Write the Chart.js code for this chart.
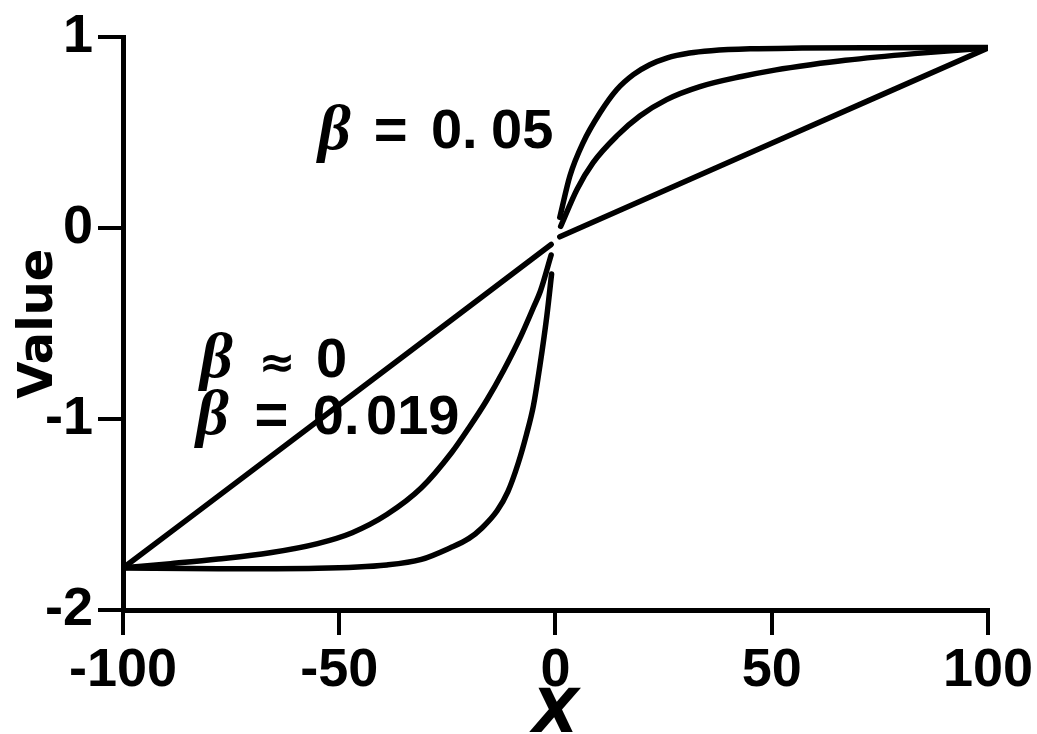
<!DOCTYPE html>
<html>
<head>
<meta charset="utf-8">
<title>Value vs X</title>
<style>
html, body { margin: 0; padding: 0; background: #fff; }
#wrap { width: 1037px; height: 734px; }
</style>
<script src="https://cdn.jsdelivr.net/npm/chart.js@4.4.1/dist/chart.umd.min.js"></script>
</head>
<body>
<div id="wrap"><canvas id="chart" width="1037" height="734"></canvas></div>
<script>
// Values, left branch (x < 0) and right branch (x > 0)
const xLinL = [-100, -50, -1];
const yLinL = [-1.78, -0.925, -0.085];
const xLinR = [1, 50, 100];
const yLinR = [-0.045, 0.445, 0.945];

// beta = 0.019
const xMidL = [-100, -89, -78, -66, -55, -47, -39, -31, -24, -20, -16, -12, -8, -5, -3.5, -1];
const yMidL = [-1.779, -1.757, -1.733, -1.700, -1.652, -1.595, -1.50, -1.36, -1.175, -1.045, -0.905, -0.745, -0.565, -0.41, -0.33, -0.14];
const xMidR = [1.2, 5, 8.7, 14.2, 19.5, 25.7, 33.4, 43, 51, 59, 67, 83, 100];
const yMidR = [0.01, 0.205, 0.344, 0.484, 0.588, 0.674, 0.742, 0.795, 0.83, 0.857, 0.88, 0.915, 0.945];

// beta = 0.05
const xStL = [-100, -78, -55, -39, -31, -24.4, -20, -17, -13.5, -11, -8.6, -6.7, -5.1, -3.6, -2, -0.9];
const yStL = [-1.78, -1.784, -1.781, -1.764, -1.735, -1.675, -1.625, -1.57, -1.48, -1.38, -1.23, -1.08, -0.93, -0.72, -0.46, -0.24];
const xStR = [1, 3.35, 6.4, 10.3, 14.2, 18, 21.8, 25.7, 31, 36, 45, 57, 75, 100];
const yStR = [0.057, 0.275, 0.449, 0.605, 0.727, 0.805, 0.857, 0.892, 0.918, 0.93, 0.94, 0.944, 0.946, 0.947];

const xTicks = [-100, -50, 0, 50, 100];
const yTicks = [-2, -1, 0, 1];

// text labels in the plot, anchored in data space (x, baseline y)
const noteText = ['β', '=', '0.', '05', 'β', '≈', '0', 'β', '=', '0.', '019'];
const noteX = [-54.9, -42.0, -28.8, -14.9, -82.2, -68.6, -55.4, -83.1, -69.6, -56.1, -43.8];
const noteY = [0.417, 0.417, 0.4225, 0.4225, -0.777, -0.777, -0.777, -1.08, -1.08, -1.08, -1.08];

const betaFont = 'bold italic 64px "Liberation Serif"';
const eqFont = 'bold 58px "Liberation Sans"';
const approxFont = 'bold 44px "DejaVu Sans"';
const numFont = 'bold 56px "Liberation Sans"';

function pts(xs, ys){ return xs.map((x,i)=>({x:x, y:ys[i]})); }

function line(xs, ys){
  return {
    data: pts(xs, ys),
    borderColor: '#000',
    borderWidth: 5.5,
    borderCapStyle: 'round',
    borderJoinStyle: 'round',
    pointRadius: 0,
    showLine: true,
    cubicInterpolationMode: 'monotone',
    fill: false
  };
}

const notes = {
  id: 'notes',
  afterDatasetsDraw(chart){
    const ctx = chart.ctx;
    const xs = chart.scales.x, ys = chart.scales.y;
    ctx.save();
    ctx.fillStyle = '#000';
    ctx.textAlign = 'left';
    ctx.textBaseline = 'alphabetic';
    noteText.forEach((t,i)=>{
      if(t === 'β') ctx.font = betaFont;
      else if(t === '=') ctx.font = eqFont;
      else if(t === '≈') ctx.font = approxFont;
      else ctx.font = numFont;
      ctx.fillText(t, xs.getPixelForValue(noteX[i]), ys.getPixelForValue(noteY[i]));
    });
    ctx.restore();
  }
};

const tickFont = {family: '"Liberation Sans"', size: 54, weight: 'bold'};

new Chart(document.getElementById('chart'), {
  type: 'scatter',
  data: {
    datasets: [
      line(xLinL, yLinL), line(xLinR, yLinR),
      line(xMidL, yMidL), line(xMidR, yMidR),
      line(xStL, yStL), line(xStR, yStR)
    ]
  },
  options: {
    responsive: false,
    devicePixelRatio: 1,
    animation: false,
    layout: { padding: { top: 34, right: 49, left: 0, bottom: 0 } },
    plugins: { legend: { display: false }, tooltip: { enabled: false } },
    scales: {
      x: {
        type: 'linear',
        min: -100, max: 100,
        afterFit(s){ s.height = 124; },
        afterBuildTicks(s){ s.ticks = xTicks.map(v=>({value:v})); },
        grid: { drawOnChartArea: false, drawTicks: true, tickLength: 25, lineWidth: 4, color: '#000' },
        border: { display: true, width: 5, color: '#000' },
        ticks: { color: '#000', font: tickFont, padding: 4, maxRotation: 0 },
        title: { display: true, text: 'X', color: '#000',
          font: {family: '"DejaVu Sans"', size: 60, weight: 'bold', style: 'italic', lineHeight: 1},
          padding: { top: 0, bottom: -12 } }
      },
      y: {
        type: 'linear',
        min: -2, max: 1,
        afterFit(s){ s.width = 123; },
        afterBuildTicks(s){ s.ticks = yTicks.map(v=>({value:v})); },
        grid: { drawOnChartArea: false, drawTicks: true, tickLength: 25, lineWidth: 4, color: '#000' },
        border: { display: true, width: 5, color: '#000' },
        ticks: { color: '#000', font: tickFont, padding: 5 },
        title: { display: true, text: 'Value', color: '#000',
          font: {family: '"DejaVu Sans"', size: 48, weight: 'bold', lineHeight: 1},
          padding: { top: 16, bottom: 0 } }
      }
    }
  },
  plugins: [notes]
});
</script>
</body>
</html>
